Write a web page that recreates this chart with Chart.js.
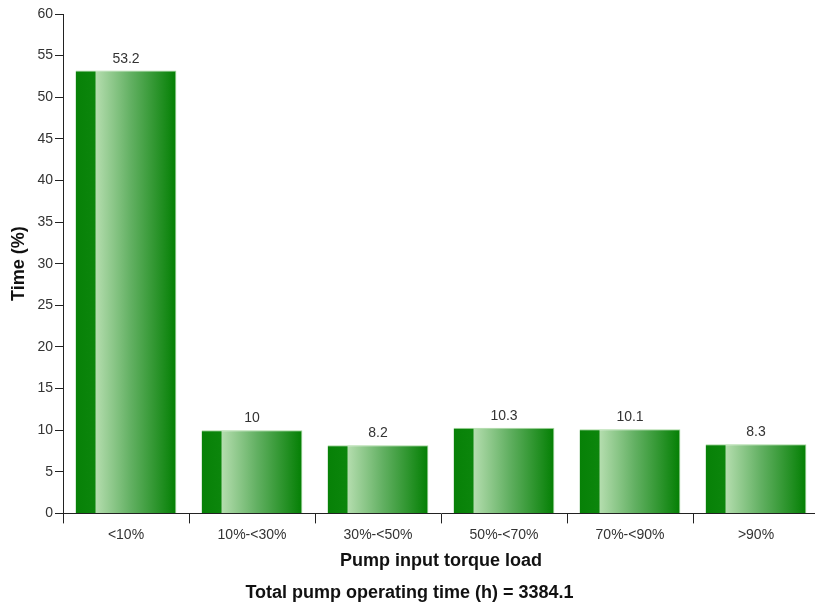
<!DOCTYPE html>
<html>
<head>
<meta charset="utf-8">
<script src="https://cdn.jsdelivr.net/npm/chart.js@4.4.1/dist/chart.umd.min.js"></script>
<style>
  html, body { margin: 0; padding: 0; background: #fff; overflow: hidden; }
  #wrap { width: 830px; height: 607px; }
</style>
</head>
<body>
<div id="wrap"><canvas id="grafica" width="830" height="607"></canvas></div>
<script>
const categorias = ["<10%", "10%-<30%", "30%-<50%", "50%-<70%", "70%-<90%", ">90%"];
const tiempos = [53.2, 10, 8.2, 10.3, 10.1, 8.3];
const etiquetas = ["53.2", "10", "8.2", "10.3", "10.1", "8.3"];
const tituloY = "Time (%)";
const tituloX = "Pump input torque load";
const totalTexto = "Total pump operating time (h) = 3384.1";

Chart.defaults.font.family = "'Liberation Sans', Arial, sans-serif";
Chart.defaults.color = "#222";

// degradado de cada barra, segun la escala x
function colorBarra(ctx) {
    const chart = ctx.chart;
    const area = chart.chartArea;
    if (!area || !chart.scales.x) return "#0a820a";
    const centro = chart.scales.x.getPixelForValue(ctx.dataIndex);
    const ancho = (area.right - area.left) / categorias.length * 0.8;
    const izq = centro - ancho / 2;
    const g = chart.ctx.createLinearGradient(izq, 0, izq + ancho, 0);
    g.addColorStop(0, "#078107");
    g.addColorStop(0.195, "#0c860c");
    g.addColorStop(0.2, "#b4ddae");
    g.addColorStop(0.55, "#62b062");
    g.addColorStop(1, "#037f03");
    return g;
}

const etiquetasPlugin = {
    id: "etiquetas",
    afterDatasetsDraw(chart) {
        const ctx = chart.ctx;
        const meta = chart.getDatasetMeta(0);
        ctx.save();
        ctx.font = "14px 'Liberation Sans', Arial, sans-serif";
        ctx.fillStyle = "#333";
        ctx.textAlign = "center";
        ctx.textBaseline = "alphabetic";
        meta.data.forEach((bar, i) => {
            ctx.fillText(etiquetas[i], bar.x, bar.y - 8);
        });
        ctx.restore();
    }
};

const config = {
    type: "bar",
    data: {
        labels: categorias,
        datasets: [{
            data: tiempos,
            backgroundColor: colorBarra,
            borderColor: "#a6d8a0",
            borderWidth: { top: 1, left: 0, right: 1, bottom: 0 },
            barPercentage: 0.8,
            categoryPercentage: 1.0
        }]
    },
    options: {
        responsive: false,
        animation: false,
        layout: { padding: { left: 0, right: 11, top: 14, bottom: 0 } },
        plugins: {
            legend: { display: false },
            tooltip: { enabled: false },
            title: {
                display: true,
                position: "bottom",
                text: totalTexto,
                color: "#111",
                font: { size: 18, weight: "bold" },
                padding: { top: 11, bottom: 3 }
            }
        },
        scales: {
            x: {
                afterFit(scale) { scale.height = 58; },
                grid: { display: true, drawOnChartArea: false, drawTicks: true, tickLength: 10, color: "#222", offset: true },
                border: { display: true, color: "#222", width: 1 },
                ticks: { color: "#333", font: { size: 14 }, padding: 3 },
                title: { display: true, text: tituloX, color: "#111", font: { size: 18, weight: "bold" }, padding: { top: 0, bottom: 0 } }
            },
            y: {
                min: 0,
                max: 60,
                afterFit(scale) { scale.width = 63; },
                grid: { display: true, drawOnChartArea: false, drawTicks: true, tickLength: 8, color: "#222" },
                border: { display: true, color: "#222", width: 1 },
                ticks: { stepSize: 5, color: "#333", font: { size: 14 }, padding: 2 },
                title: { display: true, text: tituloY, color: "#111", font: { size: 18, weight: "bold" }, padding: { top: 8, bottom: 0 } }
            }
        }
    },
    plugins: [etiquetasPlugin]
};

new Chart(document.getElementById("grafica"), config);
</script>
</body>
</html>
